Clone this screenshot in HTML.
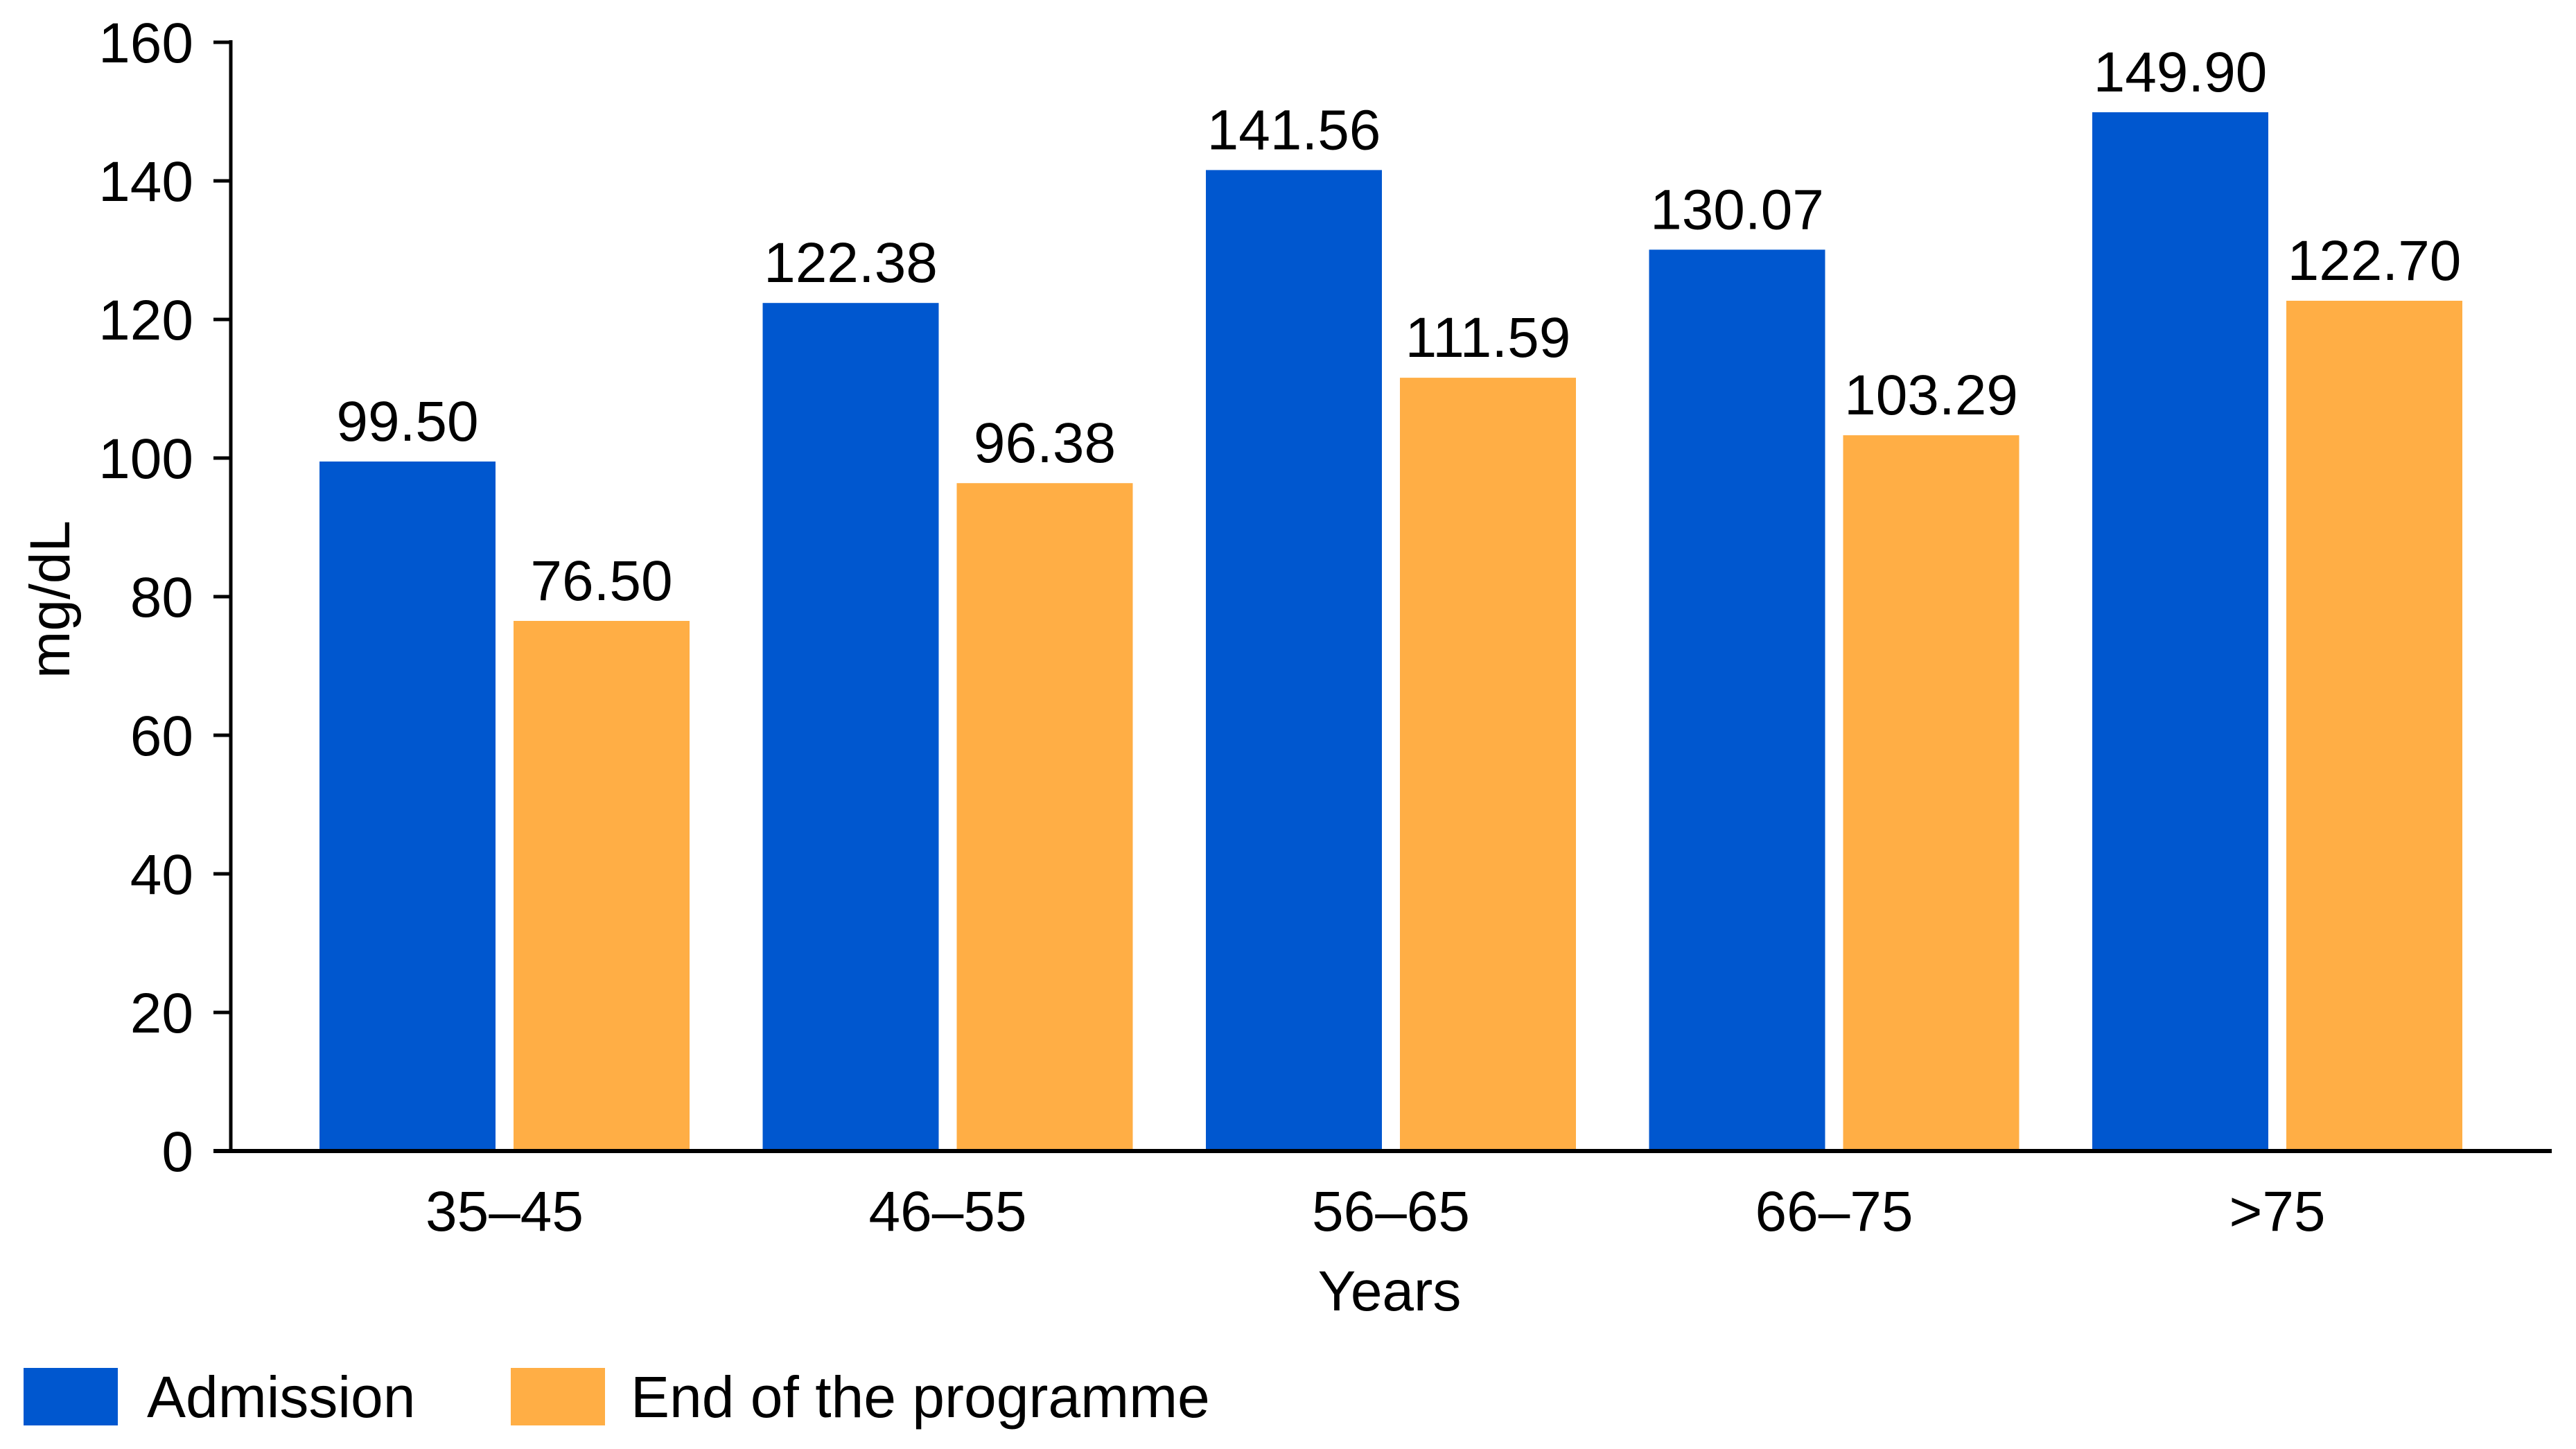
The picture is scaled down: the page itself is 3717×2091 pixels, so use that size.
<!DOCTYPE html>
<html><head><meta charset="utf-8"><style>
html,body{margin:0;padding:0;background:#fff;}
svg{display:block;font-family:"Liberation Sans",Arial,sans-serif;}
</style></head><body>
<svg id="chart" width="3717" height="2091" viewBox="0 0 3717 2091" xmlns="http://www.w3.org/2000/svg">
</svg>
<script>
const categories = ["35–45","46–55","56–65","66–75",">75"];
const admission = [99.50,122.38,141.56,130.07,149.90];
const endProgramme = [76.50,96.38,111.59,103.29,122.70];
const yTicks = [0,20,40,60,80,100,120,140,160];

const svg = document.getElementById('chart');
const NS = 'http://www.w3.org/2000/svg';
const y0 = 1661, yTop = 61, yMax = 160;
const yScale = v => y0 - (v / yMax) * (y0 - yTop);
const groupStart = 461, groupStep = 639.5, barW = 254, barGap = 26;
const xBlue = i => groupStart + i * groupStep;
const xOrange = i => xBlue(i) + barW + barGap;

function mk(tag, attrs, text){
  const e = document.createElementNS(NS, tag);
  for (const k in attrs) e.setAttribute(k, attrs[k]);
  if (text !== undefined) e.textContent = text;
  svg.appendChild(e);
  return e;
}

categories.forEach((c,i)=>{
  const vals = [[admission[i], xBlue(i), '#0057CF', 'admission'], [endProgramme[i], xOrange(i), '#FFAE45', 'end']];
  vals.forEach(([v,x,col,s])=>{
    const r = mk('rect',{x:x,y:yScale(v),width:barW,height:y0-yScale(v),fill:col});
    
    
    const t = mk('text',{x:x+barW/2,y:yScale(v)-30,'text-anchor':'middle','font-size':82,fill:'#000'}, v.toFixed(2));
    
    
  });
  const cl = mk('text',{x:(xBlue(i)+xOrange(i)+barW)/2,y:1776,'text-anchor':'middle','font-size':82,fill:'#000'}, c);
  
  
});

const ya = mk('line',{x1:333,y1:yTop-3,x2:333,y2:y0+3,stroke:'#000','stroke-width':5});


const xa = mk('line',{x1:308,y1:y0,x2:3682,y2:y0,stroke:'#000','stroke-width':6});


yTicks.forEach(v=>{
  const tk = mk('line',{x1:308,y1:yScale(v),x2:333,y2:yScale(v),stroke:'#000','stroke-width':5});
  
  
  const tl = mk('text',{x:279,y:yScale(v)+29,'text-anchor':'end','font-size':82,fill:'#000'}, String(v));
  
  
});

const xt = mk('text',{x:2005,y:1891,'text-anchor':'middle','font-size':82,fill:'#000'},'Years');


const yt = mk('text',{x:0,y:0,'text-anchor':'middle','font-size':82,fill:'#000',transform:'translate(100,865) rotate(-90)'},'mg/dL');



const l1 = mk('rect',{x:34,y:1974,width:136,height:83,fill:'#0057CF'});


const l1t = mk('text',{x:212,y:2045,'font-size':84,fill:'#000'},'Admission');


const l2 = mk('rect',{x:737,y:1974,width:136,height:83,fill:'#FFAE45'});


const l2t = mk('text',{x:910,y:2045,'font-size':84,fill:'#000'},'End of the programme');


</script>
</body></html>
